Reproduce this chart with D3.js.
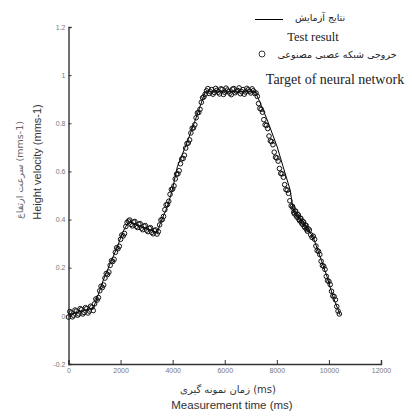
<!DOCTYPE html>
<html><head><meta charset="utf-8">
<script src="https://cdn.jsdelivr.net/npm/d3@7/dist/d3.min.js"></script>
<style>html,body{margin:0;padding:0;background:#fff;}svg{display:block;}</style>
</head><body>
<script>
// ---- data ----
const testTime = [0, 958, 1112, 1342, 1610, 1879, 2070, 2300, 2760, 3144, 3412, 3527, 3796, 3987, 4179, 4562, 4869, 5138, 5253, 7170, 7361, 7630, 8013, 8243, 8511, 8627, 9010, 9393, 9662, 9930, 10160, 10429];
const testValue = [0.004, 0.033, 0.079, 0.150, 0.220, 0.287, 0.345, 0.391, 0.370, 0.357, 0.345, 0.386, 0.453, 0.523, 0.619, 0.723, 0.814, 0.897, 0.931, 0.931, 0.885, 0.814, 0.702, 0.619, 0.523, 0.440, 0.386, 0.328, 0.245, 0.162, 0.079, 0.004];

const nnTime = [0,100,200,300,400,500,600,700,800,900,
 1000,1100,1200,1300,1400,1500,1600,1700,1800,1900,2000,2100,2200,2300,
 2400,2500,2600,2700,2800,2900,3000,3100,3200,3300,3400,
 3500,3600,3700,3800,3900,4000,4100,4200,4300,4400,4500,4600,4700,4800,4900,5000,5100,5200,
 5300,5400,5500,5600,5700,5800,5900,6000,6100,6200,6300,6400,6500,6600,6700,6800,6900,7000,7100,
 7200,7300,7400,7500,7600,7700,7800,7900,8000,8100,8200,8300,8400,8500,8600,
 8650,8700,8750,8800,8850,8900,8950,9000,9050,9100,9150,9200,9300,
 9400,9500,9600,9700,9800,9900,10000,10100,10200,10300,10400];
const nnValue = [-0.005,0.012,0.002,0.020,0.008,0.026,0.014,0.030,0.020,0.036,
 0.050,0.066,0.104,0.118,0.157,0.172,0.210,0.226,0.264,0.279,0.318,0.332,0.371,0.394,
 0.380,0.390,0.372,0.381,0.364,0.373,0.356,0.364,0.347,0.354,0.340,
 0.378,0.400,0.441,0.463,0.505,0.527,0.569,0.590,0.632,0.654,0.697,0.718,0.760,0.781,0.823,0.845,0.887,0.910,
 0.935,0.924,0.940,0.928,0.937,0.922,0.941,0.929,0.938,0.925,0.942,0.927,0.936,0.923,0.940,0.930,0.939,0.926,0.935,
 0.926,0.882,0.858,0.815,0.791,0.747,0.724,0.680,0.656,0.612,0.590,0.545,0.522,0.478,0.455,
 0.430,0.436,0.416,0.421,0.401,0.406,0.387,0.391,0.372,0.377,0.358,0.362,0.337,
 0.331,0.290,0.268,0.227,0.206,0.164,0.143,0.102,0.080,0.039,0.008];

// additional network samples (between the ones above)
const nnTime2 = [50,150,250,350,450,550,650,750,850,950,
 1050,1150,1250,1350,1450,1550,1650,1750,1850,1950,2050,2150,2250,
 2350,2450,2550,2650,2750,2850,2950,3050,3150,3250,3350,
 3450,3550,3650,3750,3850,3950,4050,4150,4250,4350,4450,4550,4650,4750,4850,4950,5050,5150,5250,
 5350,5450,5550,5650,5750,5850,5950,6050,6150,6250,6350,6450,6550,6650,6750,6850,6950,7050,7150,
 7250,7350,7450,7550,7650,7750,7850,7950,8050,8150,8250,8350,8450,8550,
 8625,8675,8725,8775,8825,8875,8925,8975,9025,9075,9125,9175,9250,9350,
 9450,9550,9650,9750,9850,9950,10050,10150,10250,10350];
const nnValue2 = [0.018,-0.004,0.024,0.003,0.030,0.008,0.034,0.012,0.040,0.022,
 0.070,0.076,0.123,0.128,0.176,0.182,0.229,0.235,0.283,0.289,0.336,0.342,0.388,
 0.398,0.374,0.392,0.367,0.383,0.358,0.375,0.350,0.366,0.341,0.357,
 0.350,0.398,0.413,0.461,0.476,0.525,0.540,0.589,0.603,0.652,0.667,0.716,0.731,0.779,0.794,0.843,0.858,0.906,0.921,
 0.944,0.931,0.921,0.945,0.929,0.943,0.920,0.946,0.931,0.919,0.944,0.933,0.947,0.931,0.921,0.945,0.933,0.943,0.924,
 0.912,0.862,0.846,0.794,0.778,0.727,0.711,0.659,0.643,0.592,0.576,0.525,0.509,0.457,
 0.447,0.424,0.434,0.410,0.419,0.395,0.404,0.381,0.390,0.367,0.375,0.352,0.357,0.326,
 0.318,0.271,0.255,0.209,0.193,0.146,0.130,0.083,0.067,0.020];

const xTicks = [0, 2000, 4000, 6000, 8000, 10000, 12000];
const xTickLabels = ["0", "2000", "4000", "6000", "8000", "10000", "12000"];
const yTicks = [1.2, 1, 0.8, 0.6, 0.4, 0.2, 0, -0.2];
const yTickLabels = ["1.2", "1", "0.8", "0.6", "0.4", "0.2", "0", "-0.2"];

// ---- drawing ----
const W = 412, H = 417;
const svg = d3.select("body").append("svg").attr("width", W).attr("height", H);

const x = d3.scaleLinear().domain([0, 12000]).range([68.5, 381]);
const y = d3.scaleLinear().domain([-0.2, 1.2]).range([364, 27]);

const xAxis = d3.axisBottom(x).tickValues(xTicks).tickSize(-4).tickPadding(4)
  .tickFormat((d, i) => xTickLabels[i]);
const yAxis = d3.axisLeft(y).tickValues(yTicks).tickSize(-3).tickPadding(3)
  .tickFormat((d, i) => yTickLabels[i]);

const gx = svg.append("g").attr("transform", "translate(0,364)").call(xAxis);
const gy = svg.append("g").attr("transform", "translate(68.5,0)").call(yAxis);
[gx, gy].forEach(g => {
  g.select(".domain").attr("stroke", "#333").attr("stroke-width", 1.4);
  g.selectAll(".tick line").attr("stroke", "#333").attr("stroke-width", 1);
  g.selectAll(".tick text").attr("fill", "#777").attr("font-size", 7)
    .attr("font-family", "Liberation Sans, Arial, sans-serif");
});

// test result line
const line = d3.line().x((d, i) => x(testTime[i])).y((d, i) => y(testValue[i]));
svg.append("path").datum(testValue).attr("d", line)
  .attr("fill", "none").attr("stroke", "#000").attr("stroke-width", 1);

// neural network circles
const nnPts = nnTime.map((t, i) => [t, nnValue[i]]).concat(nnTime2.map((t, i) => [t, nnValue2[i]]));
svg.append("g").selectAll("circle").data(nnPts).join("circle")
  .attr("cx", d => x(d[0])).attr("cy", d => y(d[1]))
  .attr("r", 2.3).attr("fill", "none").attr("stroke", "#111").attr("stroke-width", 1);

// axis titles
svg.append("text").attr("transform", "translate(23,170) rotate(-90)")
  .attr("text-anchor", "middle").attr("font-size", 9.5).attr("fill", "#666")
  .attr("font-family", "DejaVu Sans, sans-serif")
  .text("سرعت ارتفاع (mms-1)");
svg.append("text").attr("transform", "translate(41,162) rotate(-90)")
  .attr("text-anchor", "middle").attr("font-size", 11).attr("fill", "#333")
  .attr("font-family", "Liberation Sans, Arial, sans-serif")
  .text("Height velocity (mms-1)");

svg.append("text").attr("x", 228).attr("y", 393)
  .attr("text-anchor", "middle").attr("font-size", 10).attr("fill", "#333")
  .attr("font-family", "DejaVu Sans, sans-serif")
  .text("زمان نمونه گیری (ms)");
svg.append("text").attr("x", 232).attr("y", 409)
  .attr("text-anchor", "middle").attr("font-size", 11.5).attr("fill", "#333")
  .attr("font-family", "Liberation Sans, Arial, sans-serif")
  .text("Measurement time (ms)");

// legend
svg.append("line").attr("x1", 255).attr("x2", 283).attr("y1", 19.5).attr("y2", 19.5)
  .attr("stroke", "#000").attr("stroke-width", 1);
svg.append("text").attr("x", 320).attr("y", 21)
  .attr("text-anchor", "middle").attr("font-size", 9.5).attr("fill", "#222")
  .attr("font-family", "DejaVu Sans, sans-serif")
  .text("نتایج آزمایش");
svg.append("text").attr("x", 313).attr("y", 41)
  .attr("text-anchor", "middle").attr("font-size", 12.5).attr("fill", "#222")
  .attr("font-family", "Liberation Serif, Times New Roman, serif")
  .text("Test result");
svg.append("circle").attr("cx", 262).attr("cy", 54).attr("r", 3)
  .attr("fill", "none").attr("stroke", "#222").attr("stroke-width", 0.9);
svg.append("text").attr("x", 337).attr("y", 58)
  .attr("text-anchor", "middle").attr("font-size", 9.5).attr("fill", "#222")
  .attr("font-family", "DejaVu Sans, sans-serif")
  .text("خروجی شبکه عصبی مصنوعی");
svg.append("text").attr("x", 335).attr("y", 84)
  .attr("text-anchor", "middle").attr("font-size", 14).attr("fill", "#222")
  .attr("font-family", "Liberation Serif, Times New Roman, serif")
  .text("Target of neural network");
</script>
</body></html>
